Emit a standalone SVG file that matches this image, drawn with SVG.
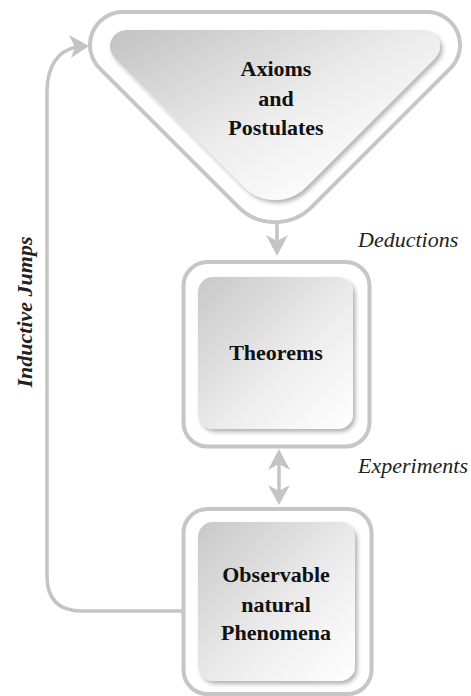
<svg xmlns="http://www.w3.org/2000/svg" width="471" height="696" viewBox="0 0 471 696">
<style>
.outer{fill:#ffffff;stroke:#c6c6c6;stroke-width:4}
.inner{filter:url(#sh)}
.conn{fill:none;stroke:#c4c4c4;stroke-width:3.5}
.head{fill:#c4c4c4;stroke:none}
.lbl{font-family:'Liberation Serif','DejaVu Serif',serif;font-weight:bold;font-size:22px;fill:#111;text-anchor:middle}
.it{font-family:'Liberation Serif','DejaVu Serif',serif;font-style:italic;font-size:22px;fill:#222}
</style>
<defs>
<linearGradient id="gt" x1="0" y1="0.1" x2="0.8" y2="0.9">
<stop offset="0" stop-color="#c6c6c6"/>
<stop offset="0.55" stop-color="#ececec"/>
<stop offset="1" stop-color="#ffffff"/>
</linearGradient>
<linearGradient id="gb" x1="0" y1="0" x2="1" y2="1">
<stop offset="0" stop-color="#c8c8c8"/>
<stop offset="0.6" stop-color="#eeeeee"/>
<stop offset="1" stop-color="#ffffff"/>
</linearGradient>
<filter id="sh" x="-10%" y="-10%" width="125%" height="125%">
<feDropShadow dx="2.5" dy="3" stdDeviation="2" flood-color="#000" flood-opacity="0.3"/>
</filter>
</defs>

<g id="connectors">
<path class="conn" d="M277 222 L277 242"/>
<polygon class="head" points="277,256 266,235 277,241 288,235"/>
<path class="conn" d="M279 462 L279 492"/>
<polygon class="head" points="279,449 268,470 279,464 290,470"/>
<polygon class="head" points="279,505 268,485 279,491 290,485"/>
<path class="conn" d="M183 611 L82 611 Q47 611 47 576 L47 92 C47 66 58 51 76 47"/>
<polygon class="head" points="89,46 69,35 75,47 71,58"/>
</g>

<g id="axioms">
<path class="outer" d="M123 12 L427 12 A33 33 0 0 1 450.35 68.35 L311.8 206.9 A52 52 0 0 1 238.2 206.9 L99.65 68.35 A33 33 0 0 1 123 12 Z"/>
<path class="inner" fill="url(#gt)" d="M126.4 30 L423.6 30 A16.4 16.4 0 0 1 435.2 58 L306.1 187.1 A44 44 0 0 1 243.9 187.1 L114.8 58 A16.4 16.4 0 0 1 126.4 30 Z"/>
<text class="lbl" x="276" y="76">Axioms</text>
<text class="lbl" x="276" y="106">and</text>
<text class="lbl" x="276" y="135">Postulates</text>
</g>

<g id="theorems">
<rect class="outer" x="183.5" y="262" width="186" height="184.5" rx="24"/>
<rect class="inner" fill="url(#gb)" x="198" y="277" width="155" height="152" rx="15"/>
<text class="lbl" x="276" y="360">Theorems</text>
</g>

<g id="phenomena">
<rect class="outer" x="183.5" y="509" width="188" height="185" rx="24"/>
<rect class="inner" fill="url(#gb)" x="198" y="522" width="157" height="159" rx="15"/>
<text class="lbl" x="276" y="582">Observable</text>
<text class="lbl" x="276" y="612">natural</text>
<text class="lbl" x="276" y="640">Phenomena</text>
</g>

<g id="labels">
<text class="it" x="358" y="247">Deductions</text>
<text class="it" x="358" y="473">Experiments</text>
<text class="it" font-weight="bold" font-size="21" text-anchor="middle" transform="translate(32,312) rotate(-90)">Inductive Jumps</text>
</g>
</svg>
